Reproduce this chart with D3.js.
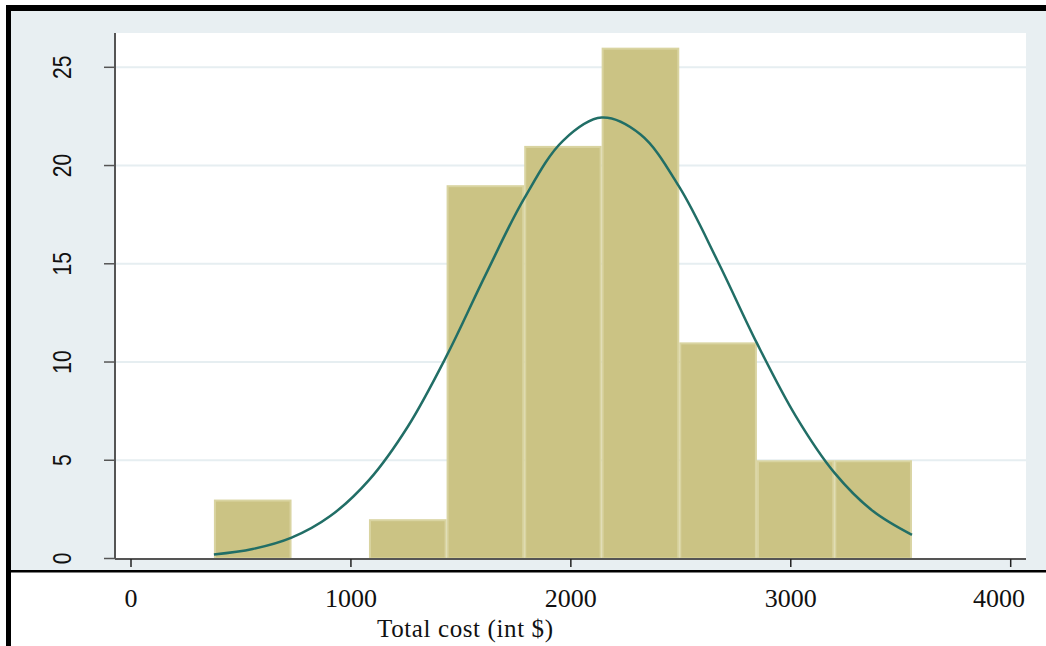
<!DOCTYPE html>
<html>
<head>
<meta charset="utf-8">
<script src="https://cdn.jsdelivr.net/npm/d3@7"></script>
<style>
  html, body { margin: 0; padding: 0; background: #fff; }
  svg { display: block; }
</style>
</head>
<body>
<div id="chart"></div>
<script>
// Histogram of total cost with a normal density overlay (frequency scale)

const binEdges = [377, 730, 1082, 1435, 1788, 2140, 2493, 2846, 3198, 3551];
const binCounts = [3, 0, 2, 19, 21, 26, 11, 5, 5];

// normal curve (frequency units)
const curveX = [377, 553, 730, 906, 1082, 1259, 1435, 1611, 1788, 1964, 2140,
  2317, 2493, 2670, 2846, 3022, 3198, 3375, 3551];
const curveY = [0.20, 0.48, 1.06, 2.16, 3.99, 6.72, 10.31, 14.41, 18.33, 21.26, 22.44,
  21.58, 18.91, 15.08, 10.96, 7.26, 4.37, 2.40, 1.20];

const xTicks = [0, 1000, 2000, 3000, 4000];
const yTicks = [0, 5, 10, 15, 20, 25];
const xTitle = 'Total cost (int $)';

const COLORS = {
  outer: '#e8eff2',
  plot: '#ffffff',
  grid: '#e6eef1',
  bar: '#cbc384',
  barEdge: '#d9d4a1',
  curve: '#216e66',
  axis: '#555555',
  frame: '#000000',
};

const W = 1046, H = 646;
const plot = { left: 115, right: 1026, top: 33, bottom: 559 };

const svg = d3.select('#chart').append('svg')
  .attr('width', W)
  .attr('height', H);

// frame: white page, light graph region, black borders
svg.append('rect').attr('width', W).attr('height', H).attr('fill', '#fff');
svg.append('rect')
  .attr('x', 11).attr('y', 11)
  .attr('width', W - 11).attr('height', 571 - 11)
  .attr('fill', COLORS.outer);
svg.append('rect').attr('x', 6).attr('y', 5).attr('width', W - 6).attr('height', 6).attr('fill', COLORS.frame);
svg.append('rect').attr('x', 6).attr('y', 5).attr('width', 5).attr('height', H - 5).attr('fill', COLORS.frame);
svg.append('rect').attr('x', 11).attr('y', 570).attr('width', W - 11).attr('height', 2.5).attr('fill', COLORS.frame);

svg.append('rect')
  .attr('x', plot.left).attr('y', plot.top)
  .attr('width', plot.right - plot.left).attr('height', plot.bottom - plot.top)
  .attr('fill', COLORS.plot);

const x = d3.scaleLinear().domain([0, 4000]).range([131, 1010.7]);
const y = d3.scaleLinear().domain([0, 25]).range([558.5, 67.3]);

// grid lines
svg.append('g')
  .selectAll('line')
  .data(yTicks.filter((d) => d > 0))
  .enter()
  .append('line')
  .attr('x1', plot.left + 1)
  .attr('x2', plot.right)
  .attr('y1', (d) => y(d))
  .attr('y2', (d) => y(d))
  .attr('stroke', COLORS.grid)
  .attr('stroke-width', 2);

// bars
const bins = binCounts.map((c, i) => ({ x0: binEdges[i], x1: binEdges[i + 1], count: c }));
svg.append('g')
  .selectAll('rect')
  .data(bins.filter((d) => d.count > 0))
  .enter()
  .append('rect')
  .attr('x', (d) => x(d.x0) + 1)
  .attr('y', (d) => y(d.count) + 1)
  .attr('width', (d) => x(d.x1) - x(d.x0) - 2)
  .attr('height', (d) => y(0) - y(d.count) - 1)
  .attr('fill', COLORS.bar)
  .attr('stroke', COLORS.barEdge)
  .attr('stroke-width', 2);

// normal density
const line = d3.line()
  .x((d) => x(d[0]))
  .y((d) => y(d[1]))
  .curve(d3.curveCatmullRom);

svg.append('path')
  .datum(curveX.map((v, i) => [v, curveY[i]]))
  .attr('d', line)
  .attr('fill', 'none')
  .attr('stroke', COLORS.curve)
  .attr('stroke-width', 2.5);

// y axis
svg.append('line')
  .attr('x1', plot.left).attr('x2', plot.left)
  .attr('y1', plot.top).attr('y2', plot.bottom)
  .attr('stroke', COLORS.axis).attr('stroke-width', 2);

const yg = svg.append('g');
yg.selectAll('line')
  .data(yTicks)
  .enter()
  .append('line')
  .attr('x1', 104).attr('x2', plot.left)
  .attr('y1', (d) => y(d)).attr('y2', (d) => y(d))
  .attr('stroke', COLORS.axis).attr('stroke-width', 1.5);

yg.selectAll('text')
  .data(yTicks)
  .enter()
  .append('text')
  .attr('transform', (d) => 'translate(71,' + y(d) + ') rotate(-90) scale(1,1.25)')
  .attr('text-anchor', 'middle')
  .attr('font-family', '"Liberation Sans", Arial, sans-serif')
  .attr('font-size', 21)
  .attr('fill', '#111')
  .text((d) => d);

// x axis
svg.append('line')
  .attr('x1', plot.left).attr('x2', plot.right)
  .attr('y1', plot.bottom).attr('y2', plot.bottom)
  .attr('stroke', COLORS.axis).attr('stroke-width', 2);

const xg = svg.append('g');
xg.selectAll('line')
  .data(xTicks)
  .enter()
  .append('line')
  .attr('x1', (d) => x(d)).attr('x2', (d) => x(d))
  .attr('y1', plot.bottom).attr('y2', 567)
  .attr('stroke', '#222').attr('stroke-width', 1.5);

// last label is pulled inside the graph edge, as in the original
xg.selectAll('text')
  .data(xTicks)
  .enter()
  .append('text')
  .attr('x', (d, i) => (i === xTicks.length - 1 ? 1025 : x(d)))
  .attr('y', 607)
  .attr('text-anchor', (d, i) => (i === xTicks.length - 1 ? 'end' : 'middle'))
  .attr('font-family', '"Liberation Serif", "Times New Roman", serif')
  .attr('font-size', 26)
  .attr('fill', '#111')
  .text((d) => d);

svg.append('text')
  .attr('x', 465)
  .attr('y', 637)
  .attr('text-anchor', 'middle')
  .attr('font-family', '"Liberation Serif", "Times New Roman", serif')
  .attr('font-size', 25)
  .attr('textLength', 176)
  .attr('lengthAdjust', 'spacing')
  .attr('fill', '#111')
  .text(xTitle);
</script>
</body>
</html>
